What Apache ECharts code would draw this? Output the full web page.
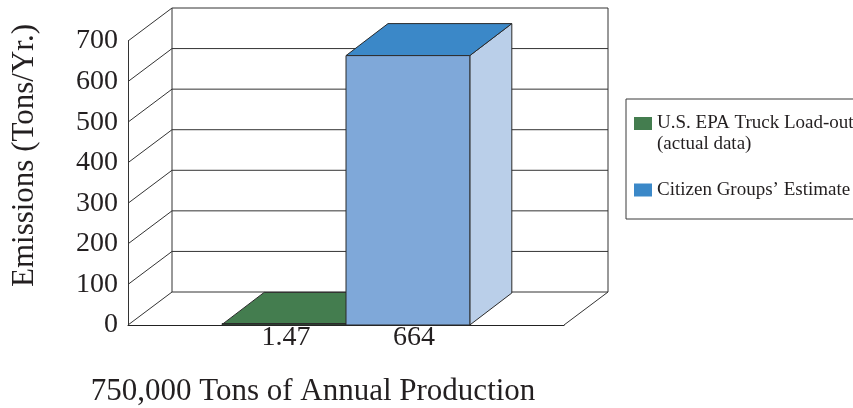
<!DOCTYPE html>
<html>
<head>
<meta charset="utf-8">
<script src="https://cdn.jsdelivr.net/npm/echarts@6/dist/echarts.min.js"></script>
<style>
  html, body { margin: 0; padding: 0; background: #ffffff; }
  #chart { width: 853px; height: 408px; }
</style>
</head>
<body>
<div id="chart"></div>
<script>
// ---- data ----
const categories = ['750,000 Tons of Annual Production'];
const epaName = 'U.S. EPA Truck Load-out (actual data)';
const citizenName = 'Citizen Groups\u2019 Estimate';
const epaValues = [1.47];
const citizenValues = [664];
const yTicks = [0, 100, 200, 300, 400, 500, 600, 700];

// ---- look ----
const FONT = '"Liberation Serif", "Times New Roman", serif';
const INK = '#231f20';
const EDGE = '#2b2b2b';
const WALL_DX = 44, WALL_DY = -33;   // depth of the floor / back wall
const BAR_DX = 42, BAR_DY = -32;     // depth of each bar
const BAR_FRACTION = 0.284;          // bar width as a share of the category band

const epaFaces = { front: '#2f5537', top: '#447d4f', side: '#35603d' };
const citizenFaces = { front: '#7fa8d9', top: '#3b88c8', side: '#bacfe9' };

// legend swatches: an 18x13 square placed inside an 18x34 box, so the
// square sits at the top (two-line entry) or in the middle (one-line entry)
const SWATCH_TOP = 'path://M0,0H18V13H0Z M0,34';
const SWATCH_MID = 'path://M0,10.5H18V23.5H0Z M0,0 M0,34';

function seg(x1, y1, x2, y2, color) {
  return {
    type: 'line',
    shape: { x1: x1, y1: y1, x2: x2, y2: y2 },
    style: { stroke: color || '#333333', lineWidth: 1 }
  };
}

// back wall, floor and the depth lines running from each front tick
function renderFrame(params, api) {
  const cs = params.coordSys;
  const v = api.value(1);
  const y = api.coord([0, v])[1];
  const left = cs.x, right = cs.x + cs.width;
  const children = [
    seg(left, y, left + WALL_DX, y + WALL_DY),
    seg(left + WALL_DX, y + WALL_DY, right + WALL_DX, y + WALL_DY)
  ];
  if (v === 0) {
    const yTop = api.coord([0, yTicks[yTicks.length - 1]])[1];
    children.push(seg(left + WALL_DX, yTop + WALL_DY, left + WALL_DX, y + WALL_DY));
    children.push(seg(right + WALL_DX, yTop + WALL_DY, right + WALL_DX, y + WALL_DY));
    children.push(seg(right, y, right + WALL_DX, y + WALL_DY));
  }
  return { type: 'group', children: children };
}

// a 3D box: front face, top face, right side, value written under the front face
function makeBarRenderer(slot, faces, labelShift) {
  return function (params, api) {
    const band = api.size([1, 0])[0];
    const w = band * BAR_FRACTION;
    const val = api.value(1);
    const base = api.coord([api.value(0), 0]);
    const top = api.coord([api.value(0), val]);
    const x0 = base[0] + (slot - 1) * w;
    const x1 = x0 + w;
    const yb = base[1], yt = top[1];
    const stroke = { stroke: EDGE, lineWidth: 1, lineJoin: 'round' };
    return {
      type: 'group',
      children: [
        {
          type: 'polygon',
          shape: { points: [[x1, yt], [x1 + BAR_DX, yt + BAR_DY], [x1 + BAR_DX, yb + BAR_DY], [x1, yb]] },
          style: Object.assign({ fill: faces.side }, stroke)
        },
        {
          type: 'polygon',
          shape: { points: [[x0, yt], [x1, yt], [x1 + BAR_DX, yt + BAR_DY], [x0 + BAR_DX, yt + BAR_DY]] },
          style: Object.assign({ fill: faces.top }, stroke)
        },
        {
          type: 'rect',
          shape: { x: x0, y: Math.min(yt, yb - 1.5), width: w, height: Math.max(yb - yt, 1.5) },
          style: Object.assign({ fill: faces.front }, stroke)
        },
        {
          type: 'text',
          x: (x0 + x1) / 2 + labelShift,
          y: yb + 13,
          style: {
            text: String(val),
            font: '28px ' + FONT,
            fill: INK,
            align: 'center',
            verticalAlign: 'middle'
          }
        }
      ]
    };
  };
}

const chart = echarts.init(document.getElementById('chart'), null, { renderer: 'canvas' });

chart.setOption({
  animation: false,
  backgroundColor: '#ffffff',
  grid: { left: 128, right: 289, top: 41, bottom: 83 },
  xAxis: {
    type: 'category',
    data: categories,
    axisTick: { show: false },
    axisLine: { show: true, lineStyle: { color: '#222222', width: 1 } },
    axisLabel: {
      fontFamily: FONT,
      fontSize: 31,
      color: INK,
      margin: 51,
      padding: [0, 66, 0, 0]
    },
    splitLine: { show: false }
  },
  yAxis: {
    type: 'value',
    min: 0,
    max: 700,
    interval: 100,
    axisLine: { show: true, lineStyle: { color: '#333333', width: 1 } },
    axisTick: { show: false },
    splitLine: { show: false },
    axisLabel: { fontFamily: FONT, fontSize: 28, color: INK, margin: 10 }
  },
  legend: {
    orient: 'vertical',
    left: 626,
    top: 99,
    padding: [14, 24, 12, 8],
    itemWidth: 18,
    itemHeight: 34,
    itemGap: 18,
    borderColor: '#3a3a3a',
    borderWidth: 1,
    selectedMode: false,
    textStyle: { fontFamily: FONT, fontSize: 19, color: INK, lineHeight: 21 },
    data: [
      { name: epaName, icon: SWATCH_TOP },
      { name: citizenName, icon: SWATCH_MID }
    ],
    formatter: function (name) {
      return name === epaName ? 'U.S. EPA Truck Load-out\n(actual data)' : name;
    }
  },
  graphic: [
    {
      type: 'text',
      x: 25,
      y: 155.5,
      rotation: Math.PI / 2,
      style: {
        text: 'Emissions (Tons/Yr.)',
        font: '31px ' + FONT,
        fill: INK,
        align: 'center',
        verticalAlign: 'middle'
      }
    }
  ],
  series: [
    {
      type: 'custom',
      name: 'frame',
      renderItem: renderFrame,
      data: yTicks.map(function (v) { return [0, v]; }),
      silent: true,
      clip: false
    },
    {
      type: 'custom',
      name: epaName,
      itemStyle: { color: epaFaces.top },
      renderItem: makeBarRenderer(0, epaFaces, 2),
      data: epaValues.map(function (v, i) { return [i, v]; }),
      clip: false
    },
    {
      type: 'custom',
      name: citizenName,
      itemStyle: { color: citizenFaces.top },
      renderItem: makeBarRenderer(1, citizenFaces, 6),
      data: citizenValues.map(function (v, i) { return [i, v]; }),
      clip: false
    }
  ]
});
</script>
</body>
</html>
